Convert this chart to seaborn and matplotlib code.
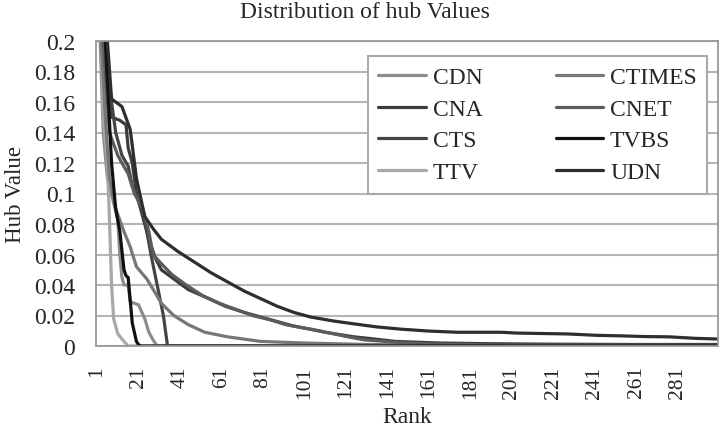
import matplotlib
matplotlib.use('Agg')
import matplotlib.pyplot as plt
import seaborn as sns
import pandas as pd
from matplotlib.ticker import FuncFormatter, MultipleLocator

# values (ranks where the curve bends)
sites = ['CDN', 'CNA', 'CTS', 'TTV', 'CTIMES', 'CNET', 'TVBS', 'UDN']

cdn_rank = [1, 2, 4, 6, 11, 12, 13, 14, 16, 17, 21, 24, 26, 28, 30, 300]
cdn_hub = [0.4, 0.22, 0.14, 0.11, 0.083, 0.06, 0.045, 0.04, 0.04, 0.029, 0.027, 0.018, 0.009, 0.004, 0.0, 0.0]

cna_rank = [1, 5, 8, 12, 15, 16, 18, 20, 23, 26, 29, 32, 38, 45, 55, 63, 72, 80, 88, 96, 104, 111, 118,
            125, 132, 145, 165, 190, 220, 260, 300]
cna_hub = [0.6, 0.2, 0.15, 0.148, 0.145, 0.13, 0.12, 0.10, 0.085, 0.07, 0.058, 0.05, 0.044, 0.037, 0.031,
           0.026, 0.022, 0.019, 0.016, 0.013, 0.011, 0.009, 0.0075, 0.006, 0.005, 0.003, 0.002, 0.0015,
           0.0012, 0.001, 0.001]

cts_rank = [1, 5, 7, 10, 13, 16, 18, 21, 24, 27, 30, 33, 35, 300]
cts_hub = [0.6, 0.2, 0.17, 0.14, 0.125, 0.118, 0.105, 0.095, 0.083, 0.06, 0.04, 0.02, 0.0, 0.0]

ttv_rank = [1, 2, 4, 6, 7, 8, 9, 11, 14, 16, 300]
ttv_hub = [0.45, 0.25, 0.15, 0.12, 0.083, 0.04, 0.018, 0.008, 0.003, 0.0, 0.0]

ctimes_rank = [1, 3, 5, 7, 10, 14, 17, 20, 25, 29, 32, 38, 45, 53, 64, 80, 100, 130, 170, 300]
ctimes_hub = [0.45, 0.2, 0.15, 0.11, 0.09, 0.075, 0.065, 0.052, 0.044, 0.035, 0.028, 0.02, 0.014,
              0.009, 0.006, 0.003, 0.002, 0.001, 0.0005, 0.0003]

cnet_rank = [1, 4, 7, 11, 13, 16, 19, 23, 26, 28, 32, 37, 44, 52, 60, 68, 76, 85, 92, 100, 108, 115,
             122, 130, 140, 150, 165, 180, 200, 300]
cnet_hub = [0.5, 0.2, 0.14, 0.125, 0.12, 0.113, 0.10, 0.09, 0.075, 0.06, 0.054, 0.047, 0.04, 0.033,
            0.028, 0.024, 0.02, 0.017, 0.014, 0.012, 0.01, 0.008, 0.006, 0.004, 0.003, 0.002, 0.0013,
            0.001, 0.0, 0.0]

tvbs_rank = [1, 3, 5, 8, 10, 12, 14, 15, 16, 17, 18, 20, 21, 22, 300]
tvbs_hub = [0.5, 0.3, 0.2, 0.12, 0.09, 0.075, 0.05, 0.046, 0.045, 0.03, 0.015, 0.003, 0.001, 0.0, 0.0]

udn_rank = [1, 6, 8, 13, 17, 20, 24, 28, 32, 40, 48, 56, 64, 72, 80, 88, 96, 104, 115, 125, 136, 148,
            161, 175, 196, 203, 215, 228, 242, 255, 265, 277, 290, 300]
udn_hub = [0.7, 0.2, 0.162, 0.157, 0.142, 0.11, 0.085, 0.077, 0.07, 0.062, 0.055, 0.048, 0.042, 0.036,
           0.031, 0.026, 0.022, 0.019, 0.0164, 0.0145, 0.0125, 0.011, 0.0098, 0.009, 0.009, 0.0085,
           0.0082, 0.0079, 0.007, 0.0066, 0.0062, 0.006, 0.005, 0.0046]

x_ticks = list(range(1, 300, 20))
y_ticks = [0, 0.02, 0.04, 0.06, 0.08, 0.1, 0.12, 0.14, 0.16, 0.18, 0.2]

series = {
    'CDN': (cdn_rank, cdn_hub),
    'CNA': (cna_rank, cna_hub),
    'CTS': (cts_rank, cts_hub),
    'TTV': (ttv_rank, ttv_hub),
    'CTIMES': (ctimes_rank, ctimes_hub),
    'CNET': (cnet_rank, cnet_hub),
    'TVBS': (tvbs_rank, tvbs_hub),
    'UDN': (udn_rank, udn_hub),
}

colors = {
    'CDN': '#8c8c8c', 'CNA': '#3c3c3c', 'CTS': '#444444', 'TTV': '#a8a8a8',
    'CTIMES': '#777777', 'CNET': '#5c5c5c', 'TVBS': '#111111', 'UDN': '#2e2e2e',
}

sns.set_style('white')
plt.rcParams['font.family'] = ['Liberation Serif', 'DejaVu Serif']

fig = plt.figure(figsize=(7.2, 4.35), dpi=100)
ax = fig.add_axes([96 / 720, 1 - 347 / 435, 622 / 720, 305 / 435])

for site in sites:
    ranks, hubs = series[site]
    df = pd.DataFrame({'Rank': ranks, 'Hub': hubs})
    sns.lineplot(data=df, x='Rank', y='Hub', ax=ax, color=colors[site], linewidth=2.3,
                 label=site, estimator=None)

ax.set_xlim(0.5, 300.5)
ax.set_ylim(0, 0.2)
ax.set_xticks(x_ticks)
ax.set_xticklabels([str(t) for t in x_ticks], rotation=90)
ax.xaxis.set_minor_locator(MultipleLocator(1))
ax.set_yticks(y_ticks)
ax.yaxis.set_major_formatter(FuncFormatter(lambda v, p: f'{v:g}'))
ax.tick_params(axis='x', which='major', labelsize=15.5, pad=14, length=0)
ax.tick_params(axis='y', which='major', labelsize=17, pad=12, length=3, color='#999999',
               direction='out')
ax.tick_params(axis='x', which='minor', direction='in', length=5, width=0.9, color='#a0a0a0')

ax.grid(axis='y', color='#b5b5b5', linewidth=1.5)
ax.grid(axis='x', visible=False)
for sp in ax.spines.values():
    sp.set_color('#999999')
    sp.set_linewidth(1.3)

ax.set_xlabel('Rank', fontsize=17, labelpad=6)
ax.set_ylabel('Hub Value', fontsize=16.5, labelpad=6)
fig.text(0.507, 1 - 18 / 435, 'Distribution of hub Values', ha='center', va='baseline', fontsize=17)

leg = ax.legend(ncol=2, loc='upper left', bbox_to_anchor=(0.437, 0.951), borderaxespad=0,
                fontsize=17, frameon=True, fancybox=False, framealpha=1, edgecolor='#aaaaaa',
                handlelength=2.0, handletextpad=0.3, columnspacing=3.1, labelspacing=0.43,
                borderpad=0.45)
leg.get_frame().set_linewidth(1.5)

fig.savefig('out.png', dpi=100)
